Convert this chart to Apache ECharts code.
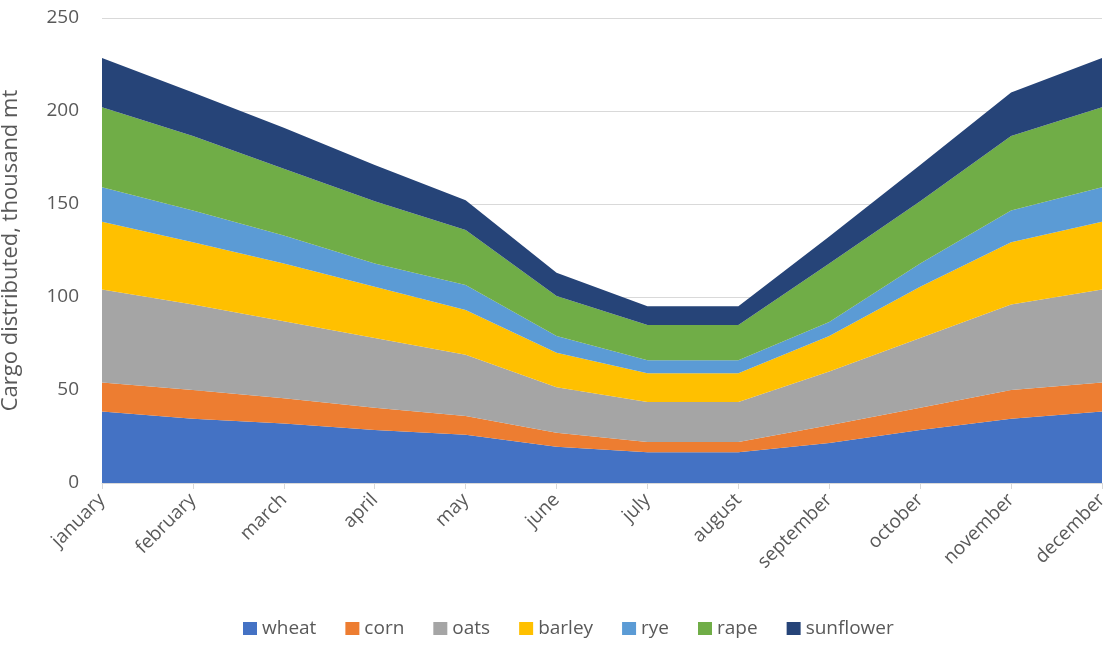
<!DOCTYPE html>
<html>
<head>
<meta charset="utf-8">
<title>Cargo distributed by month</title>
<script src="https://cdn.jsdelivr.net/npm/echarts@6/dist/echarts.min.js"></script>
<style>
  html, body { margin: 0; padding: 0; background: #ffffff; }
  #chart { width: 1110px; height: 649px; }
</style>
</head>
<body>
<div id="chart"></div>
<script>
// Months along the horizontal axis
const months = ['january', 'february', 'march', 'april', 'may', 'june',
                'july', 'august', 'september', 'october', 'november', 'december'];

// Cargo distributed per crop, thousand mt (stacked)
const wheat     = [38.5, 34.5, 32.0, 28.5, 26.0, 19.5, 16.5, 16.5, 21.5, 28.5, 34.5, 38.5];
const corn      = [15.5, 15.5, 13.5, 12.0, 10.0,  7.5,  5.5,  5.5,  9.5, 12.0, 15.5, 15.5];
const oats      = [50.0, 46.0, 41.5, 37.5, 33.0, 24.5, 21.5, 21.5, 29.0, 37.5, 46.0, 50.0];
const barley    = [36.5, 33.5, 31.0, 27.5, 24.0, 18.5, 15.5, 15.5, 19.0, 27.5, 33.5, 36.5];
const rye       = [18.5, 17.0, 15.0, 12.5, 13.5,  9.0,  7.0,  7.0,  7.5, 12.5, 17.0, 18.5];
const rape      = [43.0, 40.0, 36.0, 33.5, 29.5, 21.5, 19.0, 19.0, 31.5, 33.5, 40.0, 43.0];
const sunflower = [26.5, 23.5, 22.0, 19.5, 16.0, 12.5, 10.0, 10.0, 14.5, 19.5, 23.5, 26.5];

// Y-axis range and step
const yMin = 0;
const yMax = 250;
const yStep = 50;

const seriesDefs = [
  { name: 'wheat',     data: wheat,     color: '#4472C4' },
  { name: 'corn',      data: corn,      color: '#ED7D31' },
  { name: 'oats',      data: oats,      color: '#A5A5A5' },
  { name: 'barley',    data: barley,    color: '#FFC000' },
  { name: 'rye',       data: rye,       color: '#5B9BD5' },
  { name: 'rape',      data: rape,      color: '#70AD47' },
  { name: 'sunflower', data: sunflower, color: '#264478' }
];

const FONT = 'Open Sans';
const TEXT = '#595959';

const chart = echarts.init(document.getElementById('chart'), null, { renderer: 'canvas' });

chart.setOption({
  animation: false,
  backgroundColor: '#ffffff',
  textStyle: { fontFamily: FONT, color: TEXT },
  grid: {
    left: 102, right: 8, top: 18, bottom: 166,
    containLabel: false,
    outerBoundsMode: 'none'
  },
  legend: {
    bottom: 6,
    left: 238,
    itemWidth: 14,
    itemHeight: 13,
    itemGap: 29,
    icon: 'rect',
    textStyle: { fontFamily: FONT, fontSize: 19, color: TEXT },
    data: seriesDefs.map(s => s.name)
  },
  xAxis: {
    type: 'category',
    data: months,
    boundaryGap: false,
    axisLine: { show: true, lineStyle: { color: '#D9D9D9', width: 1 } },
    axisTick: { show: true, length: 6, lineStyle: { color: '#D9D9D9' } },
    axisLabel: {
      rotate: 45,
      interval: 0,
      margin: 14,
      fontFamily: FONT,
      fontSize: 19,
      color: TEXT
    }
  },
  yAxis: {
    type: 'value',
    min: yMin,
    max: yMax,
    interval: yStep,
    name: 'Cargo distributed, thousand mt',
    nameLocation: 'middle',
    nameRotate: 90,
    nameGap: 80,
    nameTextStyle: { fontFamily: FONT, fontSize: 22, color: TEXT },
    axisLine: { show: false },
    axisTick: { show: false },
    axisLabel: { margin: 23, fontFamily: FONT, fontSize: 19, color: TEXT },
    splitLine: { lineStyle: { color: '#D9D9D9', width: 1 } }
  },
  series: seriesDefs.map(s => ({
    name: s.name,
    type: 'line',
    stack: 'total',
    data: s.data,
    symbol: 'none',
    smooth: false,
    itemStyle: { color: s.color },
    lineStyle: { width: 0, color: s.color },
    areaStyle: { color: s.color, opacity: 1 },
    emphasis: { disabled: true }
  }))
});
</script>
</body>
</html>
